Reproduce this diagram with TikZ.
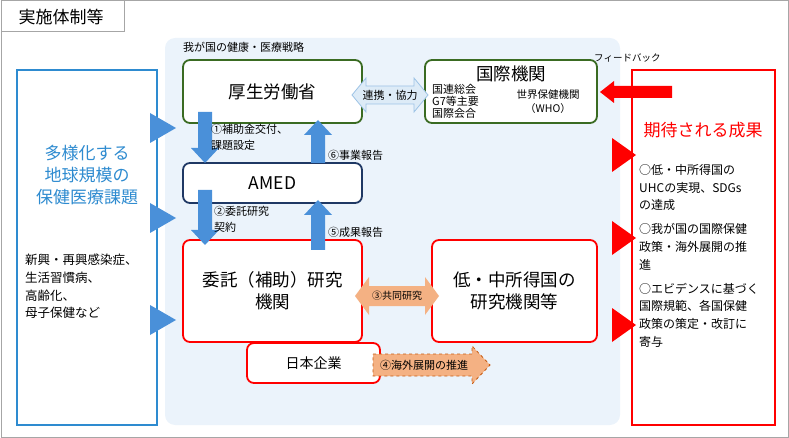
\documentclass[tikz,border=0pt]{standalone}
\usepackage{fontspec}
\setmainfont{Noto Sans CJK JP}
\definecolor{bgblue}{HTML}{EBF3FB}
\definecolor{lblue}{HTML}{2E8BD0}
\definecolor{arrblue}{HTML}{4A90D9}
\definecolor{dgreen}{HTML}{3A6B22}
\definecolor{navy}{HTML}{1F3864}
\definecolor{orng}{HTML}{F4B183}
\definecolor{brn}{HTML}{C55A11}
\definecolor{cfill}{HTML}{DDEBF7}
\definecolor{cline}{HTML}{9DC3E6}
\begin{document}
\begin{tikzpicture}[x=1pt,y=-1pt,
  box/.style={draw,line width=1.8pt,rounded corners=7pt,fill=white},
  txt/.style={font=\fontsize{11}{13}\selectfont,inner sep=0pt,align=left},
  big/.style={font=\fontsize{17.5}{22}\selectfont,align=center,inner sep=0pt}]
\useasboundingbox (0,0) rectangle (789,438);
\draw[gray!70,line width=1pt] (1,1) rectangle (788,437);
\draw[gray!70,line width=1pt,fill=white] (1,1) rectangle (124,32);
\node[font=\fontsize{17}{19}\selectfont,inner sep=0pt] (title) at (61,17) {実施体制等};
\fill[bgblue,rounded corners=10pt] (165,38) rectangle (620,425);
\node[txt,anchor=west] (strat) at (183,47) {我が国の健康・医療戦略};
% left box
\draw[lblue,line width=1.8pt,fill=white] (17,70) rectangle (157,425);
\node[big,text=lblue,font=\fontsize{17}{22}\selectfont] (diverse) at (87,175) {多様化する\\地球規模の\\保健医療課題};
\node[txt,anchor=north west,font=\fontsize{12.5}{17.7}\selectfont] (ex) at (25,254) {新興・再興感染症、\\生活習慣病、\\高齢化、\\母子保健など};
\foreach \y in {128,218,320} \fill[arrblue] (150,\y-15) -- (176,\y) -- (150,\y+15) -- cycle;
% right box
\draw[red,line width=1.8pt,fill=white] (632,70) rectangle (775,425);
\node[big,text=red,font=\fontsize{17}{20}\selectfont] (expect) at (703,130) {期待される成果};
\node[txt,anchor=north west,font=\fontsize{12}{17.8}\selectfont] (out) at (639,164) {○低・中所得国の\\UHCの実現、SDGs\\の達成\\[6pt]○我が国の国際保健\\政策・海外展開の推\\進\\[6pt]○エビデンスに基づく\\国際規範、各国保健\\政策の策定・改訂に\\寄与};
\foreach \y in {155,238,325} \fill[red] (612,\y-17) -- (636,\y) -- (612,\y+17) -- cycle;
% boxes
\node[box,draw=dgreen,minimum width=179pt,minimum height=63pt,big] (mhlw) at (272.5,91.5) {厚生労働省};
\node[box,draw=dgreen,minimum width=172pt,minimum height=63pt] (intl) at (511,91.5) {};
\node[big] (intlt) at (511,74) {国際機関};
\node[txt,anchor=north west,font=\fontsize{11}{12}\selectfont] (un) at (432,84) {国連総会\\G7等主要\\国際会合};
\node[txt,align=center,font=\fontsize{10.5}{14}\selectfont] (who) at (548,102) {世界保健機関\\（WHO）};
\node[box,draw=navy,minimum width=179pt,minimum height=40pt,big] (amed) at (272.5,183) {AMED};
\node[box,draw=red,minimum width=179pt,minimum height=102pt,big] (inst) at (272.5,291) {委託（補助）研究\\機関};
\node[box,draw=red,minimum width=165pt,minimum height=102pt,big] (lmic) at (514.5,291) {低・中所得国の\\研究機関等};
\node[box,draw=red,minimum width=133pt,minimum height=40pt,font=\fontsize{14}{16}\selectfont] (corp) at (313.5,363) {日本企業};
% collaboration arrow
\draw[fill=cfill,draw=cline,line width=0.8pt] (352,95) -- (366,78) -- (366,86) -- (414,86) -- (414,78) -- (428,95) -- (414,112) -- (414,104) -- (366,104) -- (366,112) -- cycle;
\node[txt] (renkei) at (390,95) {連携・協力};
% feedback
\node[txt,anchor=west,font=\fontsize{9.5}{11}\selectfont] (fb) at (594,58) {フィードバック};
\fill[red] (600,92) -- (614,81) -- (614,86) -- (672,86) -- (672,98) -- (614,98) -- (614,103) -- cycle;
% blue vertical arrows
\foreach \x/\a/\b in {205/112/163,205/190/245}
  \fill[arrblue] (\x-7,\a) -- (\x+7,\a) -- (\x+7,\b-15) -- (\x+14,\b-15) -- (\x,\b) -- (\x-14,\b-15) -- (\x-7,\b-15) -- cycle;
\foreach \x/\a/\b in {318/163/120,318/250/200}
  \fill[arrblue] (\x-7,\a) -- (\x+7,\a) -- (\x+7,\b+15) -- (\x+14,\b+15) -- (\x,\b) -- (\x-14,\b+15) -- (\x-7,\b+15) -- cycle;
\node[txt,anchor=north west,font=\fontsize{11}{16}\selectfont] (l1) at (211,124) {①補助金交付、\\ 課題設定};
\node[txt,anchor=west] (l6) at (328,155) {⑥事業報告};
\node[txt,anchor=north west,font=\fontsize{11}{16}\selectfont] (l2) at (214,206) {②委託研究\\ 契約};
\node[txt,anchor=west] (l5) at (328,232) {⑤成果報告};
% joint research arrow
\fill[orng] (355,296) -- (369,277) -- (369,286) -- (425,286) -- (425,277) -- (439,296) -- (425,315) -- (425,306) -- (369,306) -- (369,315) -- cycle;
\node[txt,font=\fontsize{10}{11}\selectfont] (l3) at (397,296) {③共同研究};
% overseas arrow
\draw[fill=orng,draw=brn,dashed,line width=0.8pt] (373,354) -- (472,354) -- (472,346) -- (490,365) -- (472,384) -- (472,376) -- (373,376) -- cycle;
\node[txt,font=\fontsize{11}{12}\selectfont] (l4) at (424,365) {④海外展開の推進};
\end{tikzpicture}
\end{document}
